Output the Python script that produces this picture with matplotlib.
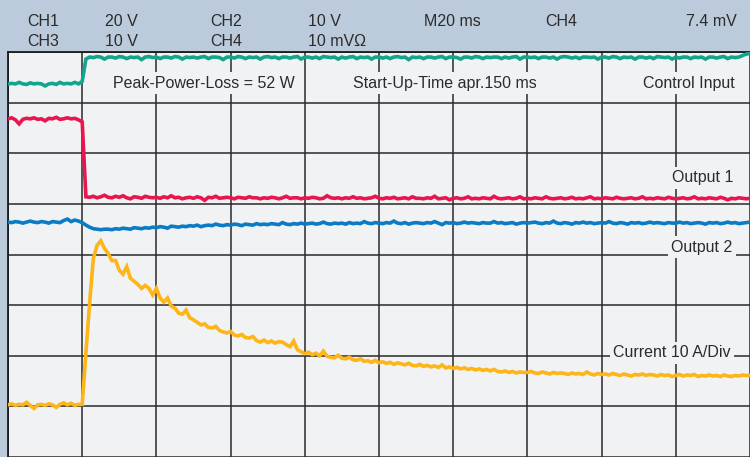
import numpy as np
import matplotlib.pyplot as plt

plt.rcParams['font.family'] = ['Liberation Sans', 'DejaVu Sans']

# time base: 20 ms/div, 10 divisions, one sample per ms
time_ms = np.arange(0, 201)

# trace levels in screen divisions (0 = bottom graticule line, 8 = top)
control_input = [
    7.37, 7.38, 7.37, 7.40, 7.37, 7.36, 7.39, 7.37, 7.38, 7.37,
    7.33, 7.37, 7.38, 7.36, 7.40, 7.37, 7.38, 7.37, 7.40, 7.37,
    7.42, 7.86, 7.90, 7.89, 7.91, 7.90, 7.86, 7.90, 7.90, 7.88,
    7.91, 7.90, 7.87, 7.90, 7.89, 7.90, 7.85, 7.90, 7.91, 7.89,
    7.90, 7.87, 7.90, 7.90, 7.88, 7.91, 7.90, 7.86, 7.90, 7.89,
    7.90, 7.88, 7.90, 7.91, 7.87, 7.90, 7.90, 7.89, 7.85, 7.90,
    7.90, 7.88, 7.91, 7.90, 7.87, 7.90, 7.89, 7.90, 7.86, 7.90,
    7.91, 7.89, 7.90, 7.87, 7.90, 7.90, 7.88, 7.90, 7.91, 7.86,
    7.90, 7.90, 7.88, 7.90, 7.87, 7.91, 7.90, 7.89, 7.90, 7.86,
    7.90, 7.88, 7.90, 7.91, 7.87, 7.90, 7.89, 7.90, 7.86, 7.90,
    7.90, 7.88, 7.90, 7.87, 7.90, 7.91, 7.89, 7.90, 7.85, 7.90,
    7.89, 7.90, 7.87, 7.90, 7.90, 7.88, 7.90, 7.91, 7.87, 7.90,
    7.90, 7.89, 7.86, 7.90, 7.90, 7.88, 7.91, 7.90, 7.87, 7.90,
    7.89, 7.90, 7.90, 7.87, 7.90, 7.88, 7.90, 7.91, 7.86, 7.90,
    7.90, 7.89, 7.90, 7.87, 7.90, 7.90, 7.88, 7.90, 7.86, 7.90,
    7.91, 7.90, 7.88, 7.90, 7.87, 7.90, 7.90, 7.89, 7.90, 7.86,
    7.90, 7.90, 7.88, 7.91, 7.90, 7.87, 7.90, 7.89, 7.90, 7.86,
    7.90, 7.90, 7.88, 7.90, 7.87, 7.91, 7.90, 7.89, 7.90, 7.86,
    7.90, 7.88, 7.90, 7.90, 7.87, 7.90, 7.89, 7.90, 7.86, 7.90,
    7.90, 7.88, 7.90, 7.91, 7.87, 7.90, 7.89, 7.90, 7.93, 7.96,
    7.97,
]

output_1 = [
    6.68, 6.70, 6.66, 6.58, 6.67, 6.69, 6.68, 6.70, 6.67, 6.68,
    6.64, 6.69, 6.68, 6.71, 6.67, 6.68, 6.70, 6.68, 6.69, 6.66,
    6.62, 5.14, 5.13, 5.15, 5.12, 5.14, 5.17, 5.13, 5.12, 5.15,
    5.13, 5.16, 5.12, 5.10, 5.14, 5.13, 5.11, 5.15, 5.13, 5.12,
    5.13, 5.11, 5.14, 5.12, 5.16, 5.12, 5.13, 5.10, 5.12, 5.13,
    5.11, 5.14, 5.12, 5.07, 5.13, 5.12, 5.15, 5.11, 5.12, 5.13,
    5.12, 5.10, 5.13, 5.12, 5.11, 5.14, 5.12, 5.12, 5.10, 5.12,
    5.11, 5.13, 5.12, 5.10, 5.12, 5.15, 5.11, 5.12, 5.12, 5.10,
    5.12, 5.11, 5.13, 5.12, 5.10, 5.11, 5.16, 5.12, 5.11, 5.12,
    5.10, 5.12, 5.11, 5.14, 5.11, 5.12, 5.10, 5.11, 5.12, 5.15,
    5.11, 5.10, 5.12, 5.11, 5.13, 5.10, 5.11, 5.12, 5.10, 5.14,
    5.11, 5.11, 5.10, 5.12, 5.11, 5.15, 5.10, 5.11, 5.12, 5.08,
    5.11, 5.12, 5.10, 5.11, 5.14, 5.10, 5.11, 5.10, 5.12, 5.11,
    5.10, 5.15, 5.11, 5.10, 5.11, 5.12, 5.10, 5.11, 5.14, 5.10,
    5.11, 5.10, 5.12, 5.11, 5.10, 5.14, 5.11, 5.10, 5.11, 5.12,
    5.10, 5.11, 5.13, 5.10, 5.11, 5.10, 5.12, 5.14, 5.10, 5.11,
    5.10, 5.12, 5.11, 5.10, 5.13, 5.11, 5.10, 5.11, 5.12, 5.10,
    5.11, 5.14, 5.10, 5.11, 5.10, 5.12, 5.11, 5.10, 5.13, 5.11,
    5.10, 5.11, 5.12, 5.10, 5.11, 5.14, 5.10, 5.11, 5.10, 5.12,
    5.11, 5.10, 5.13, 5.11, 5.08, 5.11, 5.10, 5.12, 5.11, 5.10,
    5.11,
]

output_2 = [
    4.64, 4.63, 4.65, 4.64, 4.62, 4.64, 4.66, 4.64, 4.63, 4.65,
    4.64, 4.62, 4.65, 4.64, 4.63, 4.67, 4.70, 4.65, 4.68, 4.66,
    4.63, 4.58, 4.54, 4.51, 4.50, 4.49, 4.50, 4.50, 4.49, 4.51,
    4.50, 4.52, 4.51, 4.50, 4.53, 4.52, 4.51, 4.53, 4.52, 4.54,
    4.53, 4.55, 4.54, 4.52, 4.56, 4.55, 4.54, 4.56, 4.55, 4.57,
    4.56, 4.58, 4.55, 4.57, 4.58, 4.57, 4.60, 4.58, 4.57, 4.59,
    4.58, 4.60, 4.59, 4.57, 4.60, 4.59, 4.58, 4.61, 4.59, 4.60,
    4.59, 4.61, 4.60, 4.59, 4.63, 4.60, 4.59, 4.61, 4.60, 4.62,
    4.60, 4.61, 4.62, 4.60, 4.61, 4.64, 4.61, 4.60, 4.62, 4.61,
    4.62, 4.60, 4.63, 4.61, 4.62, 4.61, 4.65, 4.62, 4.61, 4.63,
    4.62, 4.61, 4.63, 4.62, 4.66, 4.62, 4.61, 4.63, 4.60, 4.62,
    4.63, 4.62, 4.61, 4.63, 4.62, 4.65, 4.62, 4.59, 4.63, 4.62,
    4.63, 4.61, 4.62, 4.64, 4.62, 4.63, 4.62, 4.61, 4.63, 4.62,
    4.62, 4.65, 4.62, 4.63, 4.61, 4.62, 4.63, 4.60, 4.62, 4.63,
    4.62, 4.63, 4.64, 4.62, 4.61, 4.63, 4.62, 4.66, 4.62, 4.61,
    4.63, 4.62, 4.60, 4.63, 4.62, 4.64, 4.62, 4.63, 4.61, 4.62,
    4.63, 4.62, 4.65, 4.62, 4.61, 4.63, 4.62, 4.60, 4.63, 4.62,
    4.63, 4.61, 4.62, 4.64, 4.62, 4.63, 4.62, 4.61, 4.63, 4.62,
    4.62, 4.64, 4.62, 4.63, 4.61, 4.62, 4.63, 4.62, 4.60, 4.63,
    4.62, 4.63, 4.61, 4.62, 4.64, 4.62, 4.63, 4.61, 4.62, 4.63,
    4.64,
]

current = [
    1.03, 1.05, 1.02, 1.04, 1.03, 1.08, 1.02, 0.96, 1.03, 1.04,
    1.02, 1.05, 1.03, 0.98, 1.04, 1.07, 1.03, 1.06, 1.02, 1.04,
    1.04, 2.06, 3.04, 3.92, 4.18, 4.27, 4.12, 4.02, 3.88, 3.88,
    3.69, 3.61, 3.76, 3.53, 3.47, 3.41, 3.33, 3.39, 3.33, 3.20,
    3.33, 3.14, 3.06, 3.14, 2.98, 2.94, 2.84, 2.82, 2.90, 2.75,
    2.71, 2.66, 2.61, 2.63, 2.56, 2.55, 2.58, 2.50, 2.47, 2.45,
    2.48, 2.41, 2.39, 2.42, 2.36, 2.35, 2.38, 2.30, 2.27, 2.31,
    2.26, 2.29, 2.25, 2.28, 2.27, 2.22, 2.18, 2.29, 2.12, 2.08,
    2.04, 2.07, 2.02, 2.05, 2.00, 2.09, 1.99, 1.97, 1.96, 2.01,
    1.95, 1.94, 1.97, 1.92, 1.91, 1.94, 1.89, 1.90, 1.87, 1.91,
    1.86, 1.88, 1.85, 1.87, 1.83, 1.86, 1.84, 1.82, 1.85, 1.81,
    1.80, 1.83, 1.79, 1.81, 1.78, 1.80, 1.77, 1.82, 1.76, 1.78,
    1.75, 1.77, 1.74, 1.76, 1.73, 1.75, 1.72, 1.74, 1.71, 1.73,
    1.70, 1.73, 1.69, 1.68, 1.70, 1.67, 1.69, 1.66, 1.68, 1.67,
    1.67, 1.69, 1.66, 1.65, 1.68, 1.66, 1.64, 1.67, 1.65, 1.66,
    1.65, 1.63, 1.66, 1.64, 1.65, 1.63, 1.68, 1.64, 1.62, 1.65,
    1.63, 1.64, 1.62, 1.65, 1.63, 1.61, 1.64, 1.62, 1.60, 1.63,
    1.62, 1.64, 1.61, 1.63, 1.62, 1.60, 1.63, 1.61, 1.62, 1.59,
    1.61, 1.63, 1.60, 1.62, 1.61, 1.63, 1.59, 1.61, 1.60, 1.62,
    1.60, 1.61, 1.59, 1.62, 1.60, 1.59, 1.61, 1.60, 1.62, 1.61,
    1.61,
]

header_rows = [
    ['CH1', '20 V', 'CH2', '10 V', 'M20 ms', 'CH4'],
    ['CH3', '10 V', 'CH4', '10 mV\u03a9'],
]
header_right = '7.4 mV'

HEADER_BG = '#bccbdc'
SCREEN_BG = '#f1f2f4'
INK = '#2b2b2b'
GRID = '#2a2a2a'

fig = plt.figure(figsize=(7.5, 4.57), dpi=100)
fig.patch.set_facecolor(HEADER_BG)

# screen area in pixels: x 8..750, top 52, 51 px per vertical division
ax = fig.add_axes([8 / 750, 0, 742 / 750, 405 / 457])
ax.set_facecolor(SCREEN_BG)
ax.set_xlim(0, 200)
ax.set_ylim(3 / 51, 8)
ax.set_xticks(np.arange(0, 201, 20))
ax.set_yticks(np.arange(0, 9, 1))
ax.tick_params(length=0, labelbottom=False, labelleft=False)
ax.grid(True, color=GRID, linewidth=1.1)
ax.set_axisbelow(True)
for side in ['right', 'bottom']:
    ax.spines[side].set_visible(False)
for side in ['top', 'left']:
    ax.spines[side].set_color('#1a1a1a')
    ax.spines[side].set_linewidth(1.3)

traces = [
    (control_input, '#12a58b'),
    (output_1, '#e8154f'),
    (output_2, '#0b7cc3'),
    (current, '#fdb517'),
]
for values, colour in traces:
    ax.plot(time_ms, values, color=colour, linewidth=2.6, zorder=4,
            solid_joinstyle='miter')

box = dict(facecolor=SCREEN_BG, edgecolor='none', pad=2.5)
labels = [
    (28.4, 7.294, 'Peak-Power-Loss = 52 W', 'left'),
    (93.1, 7.294, 'Start-Up-Time apr.150 ms', 'left'),
    (195.8, 7.294, 'Control Input', 'right'),
    (195.5, 5.425, 'Output 1', 'right'),
    (195.3, 4.053, 'Output 2', 'right'),
    (194.8, 1.975, 'Current 10 A/Div', 'right'),
]
for x, y, text, align in labels:
    ax.text(x, y, text, ha=align, va='baseline', fontsize=11.5,
            color=INK, bbox=box, zorder=3)

# channel settings in the header strip
col_x = [27.5, 105, 210.5, 308, 423.5, 545]
row_base = [25.5, 46.5]
for row, base in zip(header_rows, row_base):
    for x, text in zip(col_x, row):
        fig.text(x / 750, 1 - base / 457, text, ha='left', va='baseline',
                 fontsize=11.5, color=INK)
fig.text(736.5 / 750, 1 - row_base[0] / 457, header_right, ha='right',
         va='baseline', fontsize=11.5, color=INK)

fig.savefig('out.png', dpi=100, facecolor=fig.get_facecolor())
